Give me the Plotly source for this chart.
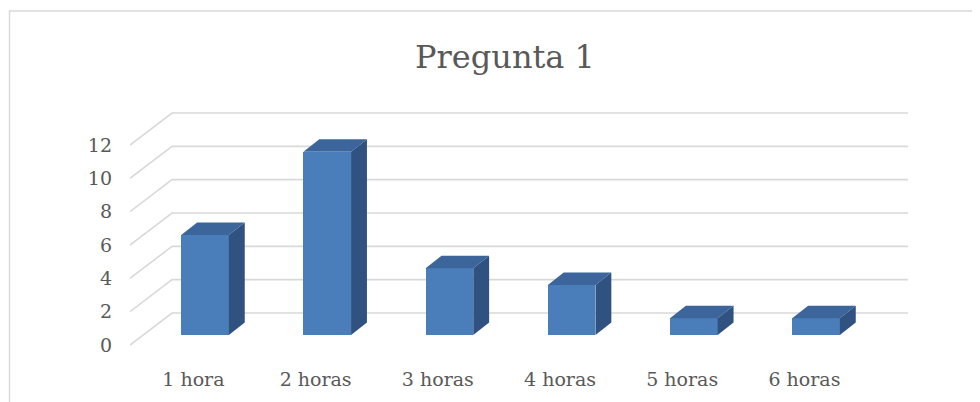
import plotly.graph_objects as go

# ---- data ----
categories = ["1 hora", "2 horas", "3 horas", "4 horas", "5 horas", "6 horas"]
values = [6, 11, 4, 3, 1, 1]
y_ticks = [0, 2, 4, 6, 8, 10, 12]
title_text = "Pregunta 1"

# ---- pseudo-3D geometry (in axis units) ----
BAR_W = 0.39       # bar width in category units
DEPTH_X = 0.13     # bar depth shift (x)
DEPTH_Y = 0.75     # bar depth shift (y)
FRONT_Y = -0.6     # floor front edge relative to bar base
BACK_Y = 1.32      # back wall relative to bar base
WALL_LEFT_FRONT = -0.614
WALL_LEFT_BACK = -0.27
WALL_RIGHT = 5.753
LABEL_SHIFT = -0.095

C_FRONT = "#4a7ebb"
C_TOP = "#3b659b"
C_SIDE = "#2f5280"
C_GRID = "#d9d9d9"
C_TEXT = "#595959"
FONT = "DejaVu Serif"

xs = list(range(len(categories)))

fig = go.Figure()

# front faces
fig.add_trace(go.Bar(
    x=xs, y=values, width=BAR_W, marker=dict(color=C_FRONT, line=dict(width=0)),
    hoverinfo="skip", showlegend=False,
))

# top and side faces
for x, v in zip(xs, values):
    xl, xr = x - BAR_W / 2, x + BAR_W / 2
    fig.add_trace(go.Scatter(
        x=[xl, xr, xr + DEPTH_X, xl + DEPTH_X, xl],
        y=[v, v, v + DEPTH_Y, v + DEPTH_Y, v],
        mode="lines", fill="toself", fillcolor=C_TOP,
        line=dict(width=0, color=C_TOP), hoverinfo="skip", showlegend=False,
    ))
    fig.add_trace(go.Scatter(
        x=[xr, xr + DEPTH_X, xr + DEPTH_X, xr, xr],
        y=[0, DEPTH_Y, v + DEPTH_Y, v, 0],
        mode="lines", fill="toself", fillcolor=C_SIDE,
        line=dict(width=0, color=C_SIDE), hoverinfo="skip", showlegend=False,
    ))

# gridlines: floor diagonal + back wall
shapes = []
for t in y_ticks:
    path = (f"M {WALL_LEFT_FRONT},{t + FRONT_Y} "
            f"L {WALL_LEFT_BACK},{t + BACK_Y} "
            f"L {WALL_RIGHT},{t + BACK_Y}")
    shapes.append(dict(type="path", path=path, xref="x", yref="y",
                       line=dict(color=C_GRID, width=1.6), layer="below"))

# page body has an 8px margin; compensate so the figure aligns with the window
OFF = 8
W, H = 980 - OFF, 402 - OFF
L, R, T, B = 130 - OFF, 70, 100 - OFF, 52
pw, ph = W - L - R, H - T - B
def px(xp):
    return (xp - OFF - L) / pw
def py(yp):
    return (H - B - (yp - OFF)) / ph
shapes.append(dict(type="rect", xref="paper", yref="paper",
                   x0=px(9.5), x1=px(1000), y0=py(430), y1=py(11),
                   line=dict(color=C_GRID, width=1.5), layer="below"))

fig.update_layout(
    width=W, height=H,
    margin=dict(l=L, r=R, t=T, b=B),
    paper_bgcolor="white", plot_bgcolor="white",
    shapes=shapes,
    showlegend=False,
    title=dict(text=title_text, x=(505 - OFF) / W, xref="container", xanchor="center",
               y=1 - (57 - OFF) / H, yref="container", yanchor="middle",
               font=dict(family=FONT, size=32, color=C_TEXT)),
    xaxis=dict(range=[WALL_LEFT_FRONT, 5.769], tickvals=[x + LABEL_SHIFT for x in xs],
               ticktext=categories, showgrid=False, zeroline=False, showline=False,
               ticks="", ticklabelstandoff=16,
               tickfont=dict(family=FONT, size=19, color=C_TEXT)),
    yaxis=dict(range=[-0.9, 14.1], tickvals=[t + FRONT_Y for t in y_ticks],
               ticktext=[str(t) for t in y_ticks], showgrid=False, zeroline=False,
               showline=False, ticks="", ticklabelstandoff=17,
               tickfont=dict(family=FONT, size=19, color=C_TEXT)),
    bargap=0,
)

fig.write_html("out.html")
